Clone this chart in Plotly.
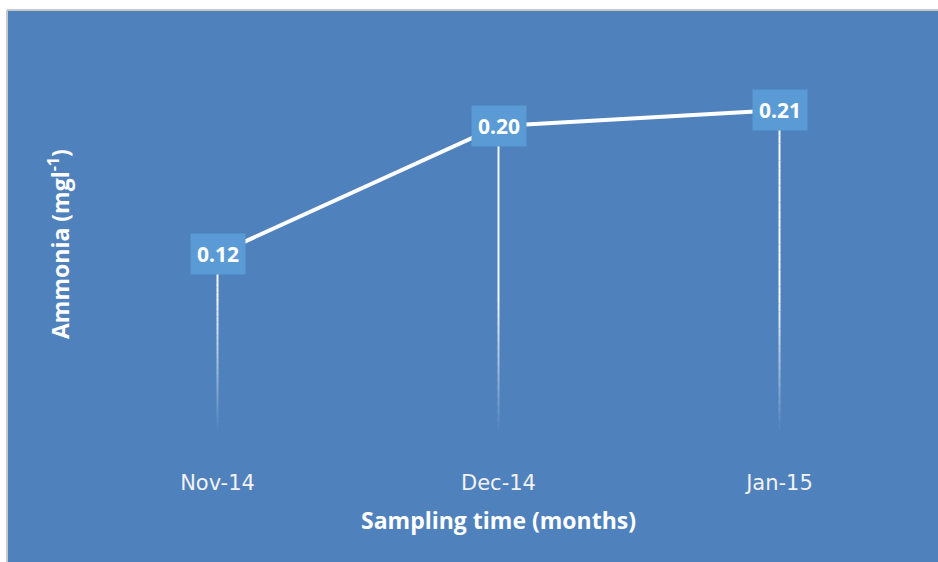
import plotly.graph_objects as go

months = ["Nov-14", "Dec-14", "Jan-15"]
ammonia = [0.12, 0.20, 0.21]
labels = ["0.12", "0.20", "0.21"]

W, H = 938, 562
ML, MR, MT, MB = 77, 18, 46, 116
PW, PH = W - ML - MR, H - MT - MB

def px(x):
    return (x - ML) / PW

def py(y):
    return (H - MB - y) / PH

BLUE = "#4f81bd"
BOX = "#5b9bd5"
FONT = "Open Sans"

fig = go.Figure()

fig.add_trace(go.Scatter(
    x=months, y=ammonia, mode="lines",
    line=dict(color="white", width=4),
    hoverinfo="skip", showlegend=False,
))

shapes = []
# drop lines with fade (derived from data)
N = 40
for i, (m, v) in enumerate(zip(months, ammonia)):
    for k in range(N):
        y0 = v * (1 - k / N)
        y1 = v * (1 - (k + 1) / N)
        ylev = (y0 + y1) / 2
        a = min(1.0, max(0.0, (ylev - 0.008) / 0.085))
        shapes.append(dict(
            type="line", xref="x", yref="y",
            x0=i, x1=i, y0=y0, y1=y1,
            line=dict(color=f"rgba(255,255,255,{a*0.95:.3f})", width=2),
            layer="below",
        ))

# frame: white strips top/left and grey border
shapes += [
    dict(type="rect", xref="paper", yref="paper", x0=px(0), x1=px(W), y0=py(0), y1=py(10),
         fillcolor="white", line_width=0, layer="below"),
    dict(type="rect", xref="paper", yref="paper", x0=px(0), x1=px(7), y0=py(0), y1=py(H),
         fillcolor="white", line_width=0, layer="below"),
    dict(type="line", xref="paper", yref="paper", x0=px(7), x1=px(W), y0=py(10), y1=py(10),
         line=dict(color="#c8c8c8", width=2), layer="below"),
    dict(type="line", xref="paper", yref="paper", x0=px(7), x1=px(7), y0=py(10), y1=py(H),
         line=dict(color="#c8c8c8", width=2), layer="below"),
]

annotations = []
for m, v, t in zip(months, ammonia, labels):
    annotations.append(dict(
        x=m, y=v, xref="x", yref="y", text=f"<b>{t}</b>", showarrow=False,
        bgcolor=BOX, borderpad=6, font=dict(family=FONT, size=21, color="white"),
        xanchor="center", yanchor="middle",
    ))

annotations.append(dict(
    x=px(498), y=py(520), xref="paper", yref="paper",
    text="<b>Sampling time (months)</b>", showarrow=False,
    font=dict(family=FONT, size=23, color="white"), xanchor="center", yanchor="middle",
))
annotations.append(dict(
    x=px(59), y=py(244), xref="paper", yref="paper",
    text="<b>Ammonia (mgl<sup>-1</sup>)</b>", showarrow=False, textangle=-90,
    font=dict(family=FONT, size=23, color="white"), xanchor="center", yanchor="middle",
))

fig.update_layout(
    width=W, height=H,
    margin=dict(l=ML, r=MR, t=MT, b=MB),
    paper_bgcolor=BLUE, plot_bgcolor=BLUE,
    shapes=shapes, annotations=annotations,
    showlegend=False,
    xaxis=dict(range=[-0.5, 2.5], showgrid=False, zeroline=False, showline=False,
               ticks="", tickfont=dict(family="DejaVu Sans", size=21, color="#f2f2f2"),
               ticklabelstandoff=22),
    yaxis=dict(range=[0, 0.25], showgrid=False, zeroline=False, showline=False,
               showticklabels=False, ticks=""),
)

fig.write_html("out.html")
